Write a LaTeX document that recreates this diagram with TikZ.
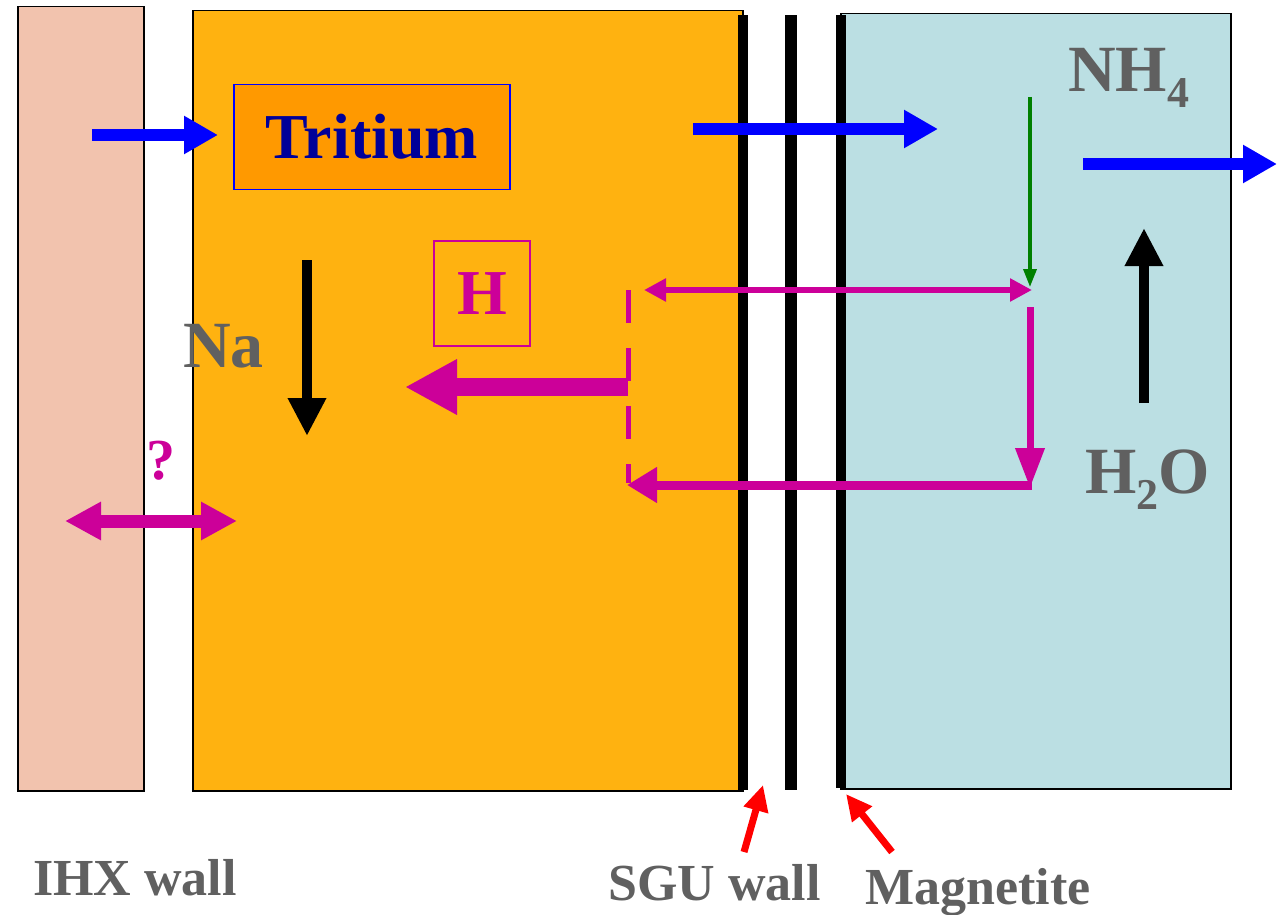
\documentclass[tikz,border=0pt]{standalone}
\usepackage{fontspec}
\setmainfont{Liberation Serif}
\usetikzlibrary{arrows.meta}
\definecolor{IHXPink}{RGB}{242,195,174}
\definecolor{NaOrange}{RGB}{255,178,16}
\definecolor{TritOrange}{RGB}{255,153,0}
\definecolor{WaterBlue}{RGB}{187,223,227}
\definecolor{HMagenta}{RGB}{204,0,153}
\definecolor{LabelGray}{RGB}{96,96,96}
\definecolor{TritNavy}{RGB}{0,0,153}
\definecolor{FlowBlue}{RGB}{0,0,255}
\definecolor{MarkRed}{RGB}{255,0,0}
\definecolor{NHGreen}{RGB}{0,128,0}

\begin{document}
\begin{tikzpicture}[x=1pt,y=-1pt,
    zone/.style={draw=black,line width=1.5pt,inner sep=0pt,anchor=north west},
    biglbl/.style={text=LabelGray,font=\bfseries\fontsize{66}{66}\selectfont,inner sep=0pt,anchor=base west},
    walllbl/.style={text=LabelGray,font=\bfseries\fontsize{52}{52}\selectfont,inner sep=0pt,anchor=base west},
    flow/.style={FlowBlue,line width=12pt,-{Triangle[length=34pt,width=36pt]}},
    netflow/.style={black,line width=10pt,-{Triangle[length=38pt,width=36pt]}},
    pointer/.style={MarkRed,line width=7pt,-{Triangle[length=26pt,width=24pt]}}]
  \useasboundingbox (0,0) rectangle (1286,915);

  % regions
  \node[zone,fill=IHXPink,minimum width=126pt,minimum height=784pt] (ihx) at (17,6) {};
  \node[zone,fill=NaOrange,minimum width=550pt,minimum height=780pt] (sodium) at (192,10) {};
  \node[zone,fill=WaterBlue,minimum width=390pt,minimum height=775pt] (water) at (840,13) {};

  % walls
  \fill[black] (738,15) rectangle (748,790);
  \fill[black] (785,15) rectangle (797,790);
  \fill[black] (836,15) rectangle (846,788);

  % boxes and labels
  \node[draw=FlowBlue,line width=1.5pt,fill=TritOrange,minimum width=276pt,minimum height=105pt,
        text=TritNavy,font=\bfseries\fontsize{64}{64}\selectfont] (tritium) at (372,137) {Tritium};
  \node[draw=HMagenta,line width=1.5pt,minimum width=96pt,minimum height=105pt,
        text=HMagenta,font=\bfseries\fontsize{64}{64}\selectfont] (hbox) at (482,293.5) {H};
  \node[biglbl] (na) at (183,367) {Na};
  \node[biglbl] (nh4) at (1068,92) {NH\raisebox{-16pt}{\fontsize{44}{44}\selectfont 4}};
  \node[biglbl] (h2o) at (1085,493) {H\raisebox{-16pt}{\fontsize{44}{44}\selectfont 2}O};
  \node[text=HMagenta,font=\bfseries\fontsize{58}{58}\selectfont,inner sep=0pt,anchor=base] (qmark) at (161,479) {?};
  \node[walllbl] (ihxlbl) at (33,895) {IHX wall};
  \node[walllbl] (sgulbl) at (608,900) {SGU wall};
  \node[walllbl] (maglbl) at (865,904) {Magnetite};

  % end points
  \coordinate (tin) at (92,135);
  \coordinate (tinend) at (218,135);
  \coordinate (tmid) at (693,129);
  \coordinate (tmidend) at (938,129);
  \coordinate (tout) at (1083,164);
  \coordinate (toutend) at (1277,164);
  \coordinate (natop) at (307,260);
  \coordinate (nabot) at (307,436);
  \coordinate (wbot) at (1144,403);
  \coordinate (wtop) at (1144,228);
  \coordinate (nhsrc) at (1030,97);
  \coordinate (hjoin) at (1030,287);
  \coordinate (hleft) at (644,290);
  \coordinate (hright) at (1032,290);
  \coordinate (hdown) at (1030,307);
  \coordinate (hturn) at (1030,488);
  \coordinate (hback) at (1032,485);
  \coordinate (hbackend) at (627,485);
  \coordinate (dashtop) at (628,290);
  \coordinate (dashbot) at (628,483);
  \coordinate (hsplit) at (628,387);
  \coordinate (hout) at (405,387);
  \coordinate (qleft) at (65,521);
  \coordinate (qright) at (237,521);
  \coordinate (sgutail) at (744,852);
  \coordinate (sgutip) at (763,785);
  \coordinate (magtail) at (892,852);
  \coordinate (magtip) at (846,794);

  % tritium flow
  \draw[flow] (tin) -- (tinend);
  \draw[flow] (tmid) -- (tmidend);
  \draw[flow] (tout) -- (toutend);

  % sodium and water flow
  \draw[netflow] (natop) -- (nabot);
  \draw[netflow] (wbot) -- (wtop);
  \draw[NHGreen,line width=3.5pt,-{Triangle[length=18pt,width=13pt]}] (nhsrc) -- (hjoin);

  % hydrogen paths
  \draw[HMagenta,line width=6pt,{Triangle[length=22pt,width=22pt]}-{Triangle[length=22pt,width=22pt]}] (hleft) -- (hright);
  \draw[HMagenta,line width=7pt,-{Triangle[length=40pt,width=28pt]}] (hdown) -- (hturn);
  \draw[HMagenta,line width=9pt,-{Triangle[length=30pt,width=34pt]}] (hback) -- (hbackend);
  \draw[HMagenta,line width=5pt,dash pattern=on 33pt off 25pt] (dashtop) -- (dashbot);
  \draw[HMagenta,line width=18pt,-{Triangle[length=52pt,width=52pt]}] (hsplit) -- (hout);
  \draw[HMagenta,line width=13pt,{Triangle[length=36pt,width=36pt]}-{Triangle[length=36pt,width=36pt]}] (qleft) -- (qright);

  % pointers
  \draw[pointer] (sgutail) -- (sgutip);
  \draw[pointer] (magtail) -- (magtip);
\end{tikzpicture}
\end{document}
